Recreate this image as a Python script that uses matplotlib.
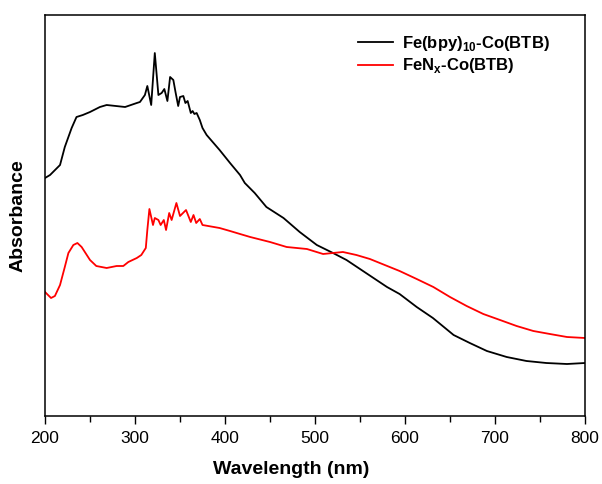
import numpy as np
import matplotlib.pyplot as plt
from matplotlib.ticker import MultipleLocator

# Fe(bpy)10-Co(BTB), black curve (wavelength nm, absorbance a.u.)
wl_fe_bpy = [200, 205.6, 216.7, 222, 229.6, 235, 242, 250, 261, 268.5, 289, 302, 305.5, 311,
             313.7, 318, 322, 326, 329.6, 332.6, 336, 339, 342.6, 345, 348, 350, 353.7, 356,
             358.5, 362, 364, 366, 368.5, 372, 375, 379.6, 394, 405.6, 416.7, 422, 433, 446,
             465, 483, 502, 520, 535, 560, 580, 594, 613, 631, 654, 672, 691, 713, 735, 757,
             780, 800]
abs_fe_bpy = [2.38, 2.41, 2.51, 2.69, 2.88, 2.99, 3.01, 3.04, 3.09, 3.11, 3.09, 3.13, 3.14, 3.21,
              3.30, 3.11, 3.63, 3.21, 3.23, 3.27, 3.15, 3.39, 3.36, 3.24, 3.10, 3.19, 3.20, 3.13,
              3.15, 3.03, 3.05, 3.02, 3.03, 2.96, 2.88, 2.81, 2.66, 2.53, 2.41, 2.33, 2.23, 2.09,
              1.98, 1.84, 1.71, 1.63, 1.56, 1.41, 1.29, 1.22, 1.09, 0.98, 0.81, 0.73, 0.65, 0.59,
              0.55, 0.53, 0.52, 0.53]

# FeNx-Co(BTB), red curve
wl_fenx = [200, 206.7, 211, 216.7, 222, 226, 231.5, 236, 240.7, 250, 257, 268.5, 279.6, 287,
           292.6, 302, 307, 312, 313.7, 316, 320, 322, 326, 328.5, 332, 334.5, 338, 340.7, 346,
           350, 356.7, 362, 365, 368, 372, 375, 394, 405.6, 416.7, 428, 450, 468.5, 491, 509,
           531, 546, 561, 594, 613, 631.5, 650, 668.5, 687, 705.6, 724, 742.6, 761, 780, 800]
abs_fenx = [1.24, 1.18, 1.20, 1.31, 1.49, 1.63, 1.71, 1.73, 1.69, 1.56, 1.50, 1.48, 1.50, 1.50,
            1.54, 1.58, 1.61, 1.68, 1.86, 2.07, 1.91, 1.98, 1.96, 1.91, 1.96, 1.86, 2.03, 1.96, 2.13,
            2.00, 2.06, 1.94, 2.01, 1.93, 1.97, 1.91, 1.88, 1.85, 1.82, 1.79, 1.74, 1.69, 1.67, 1.62,
            1.64, 1.61, 1.57, 1.45, 1.37, 1.29, 1.19, 1.10, 1.02, 0.96, 0.90, 0.85, 0.82, 0.79, 0.78]

plt.rcParams['font.family'] = ['Liberation Sans', 'DejaVu Sans']
plt.rcParams['mathtext.fontset'] = 'custom'
plt.rcParams['mathtext.rm'] = 'Liberation Sans:bold'
plt.rcParams['mathtext.bf'] = 'Liberation Sans:bold'

fig = plt.figure(figsize=(6.02, 4.84), dpi=100)
ax = fig.add_axes([45 / 602, 1 - 416 / 484, 540 / 602, 401 / 484])

ax.plot(wl_fe_bpy, abs_fe_bpy, color='black', lw=1.3, label=r'Fe(bpy)$_{\mathbf{10}}$-Co(BTB)')
ax.plot(wl_fenx, abs_fenx, color='red', lw=1.3, label=r'FeN$_{\mathbf{x}}$-Co(BTB)')

ax.set_xlim(200, 800)
ax.set_ylim(0, 4.01)
ax.xaxis.set_major_locator(MultipleLocator(100))
ax.xaxis.set_minor_locator(MultipleLocator(50))
ax.tick_params(axis='x', which='major', direction='out', length=6, width=1, labelsize=12.5, pad=5)
ax.tick_params(axis='x', which='minor', direction='out', length=4, width=1)
ax.set_yticks([])
for s in ax.spines.values():
    s.set_linewidth(1.1)

ax.set_xlabel('Wavelength (nm)', fontsize=14, fontweight='bold')
ax.xaxis.set_label_coords(0.456, -0.112)
ax.set_ylabel('Absorbance', fontsize=14, fontweight='bold')
ax.yaxis.set_label_coords(-0.035, 0.5)

leg = ax.legend(loc='upper right', frameon=False, fontsize=12, handlelength=2.05,
                handletextpad=0.55, bbox_to_anchor=(0.962, 0.99), labelspacing=0.2)
for t in leg.get_texts():
    t.set_fontweight('bold')

fig.savefig('out.png', dpi=100)
